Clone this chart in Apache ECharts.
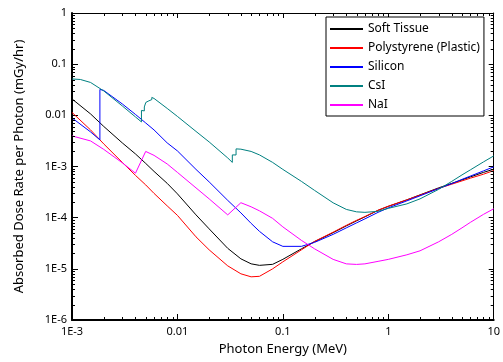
<!DOCTYPE html>
<html>
<head>
<meta charset="utf-8">
<script src="https://cdn.jsdelivr.net/npm/echarts@6/dist/echarts.min.js"></script>
<style>html,body{margin:0;padding:0;background:#fff;}#c{width:503px;height:362px;}</style>
</head>
<body>
<div id="c"></div>
<script>
// Photon energy grids (MeV)
var energyStd = [0.001,0.0015,0.002,0.003,0.004,0.005,0.006,0.008,0.01,0.015,0.02,0.03,0.04,0.05,0.06,0.08,0.1,0.15,0.2,0.3,0.4,0.5,0.6,0.8,1,1.5,2,3,4,5,6,8,10];
var energySi = [0.001,0.0015,0.001839,0.001839,0.002,0.003,0.004,0.005,0.006,0.008,0.01,0.015,0.02,0.03,0.04,0.05,0.06,0.08,0.1,0.15,0.2,0.3,0.4,0.5,0.6,0.8,1,1.5,2,3,4,5,6,8,10];
var energyCsI = [0.001,0.0012,0.0015,0.002,0.003,0.004,0.004557,0.004557,0.004852,0.004852,0.005012,0.005012,0.005188,0.005188,0.005359,0.005359,0.005714,0.005714,0.006,0.008,0.01,0.015,0.02,0.03,0.03317,0.03317,0.03598,0.03598,0.04,0.05,0.06,0.08,0.1,0.15,0.2,0.3,0.4,0.5,0.6,0.8,1,1.5,2,3,4,5,6,8,10];

// Absorbed dose rate per photon (mGy/hr)
var softTissue = [2.09e-2,1.065e-2,6.07e-3,2.89e-3,1.76e-3,1.15e-3,8.02e-4,4.68e-4,2.92e-4,1.134e-4,6.04e-5,2.515e-5,1.568e-5,1.252e-5,1.17e-5,1.224e-5,1.533e-5,2.459e-5,3.398e-5,5.093e-5,6.915e-5,8.66e-5,1.036e-4,1.389e-4,1.662e-4,2.227e-4,2.788e-4,3.82e-4,4.68e-4,5.47e-4,6.26e-4,7.67e-4,8.86e-4];
var polystyrene = [1.139e-2,5.185e-3,2.763e-3,1.202e-3,6.70e-4,4.37e-4,2.98e-4,1.70e-4,1.109e-4,4.22e-5,2.35e-5,1.144e-5,7.99e-6,6.98e-6,7.14e-6,1.0e-5,1.37e-5,2.35e-5,3.44e-5,5.21e-5,7.07e-5,8.86e-5,1.051e-4,1.401e-4,1.677e-4,2.227e-4,2.763e-4,3.735e-4,4.51e-4,5.23e-4,5.91e-4,7.07e-4,8.32e-4];
var silicon = [8.90e-3,4.74e-3,3.31e-3,3.205e-2,3.064e-2,1.67e-2,1.041e-2,7.10e-3,5.185e-3,2.89e-3,2.017e-3,8.78e-4,5.0e-4,2.18e-4,1.24e-4,7.74e-5,5.40e-5,3.37e-5,2.75e-5,2.75e-5,3.29e-5,4.72e-5,6.32e-5,7.91e-5,9.47e-5,1.27e-4,1.554e-4,2.13e-4,2.67e-4,3.70e-4,4.63e-4,5.60e-4,6.49e-4,8.21e-4,9.82e-4];
var csi = [5.14e-2,5.02e-2,4.39e-2,3.00e-2,1.526e-2,9.31e-3,7.43e-3,1.247e-2,1.22e-2,1.459e-2,1.43e-2,1.786e-2,1.75e-2,1.954e-2,1.92e-2,2.09e-2,2.03e-2,2.237e-2,2.138e-2,1.364e-2,9.52e-3,4.85e-3,3.02e-3,1.47e-3,1.202e-3,1.685e-3,1.68e-3,2.21e-3,2.18e-3,1.97e-3,1.685e-3,1.202e-3,8.78e-4,5.12e-4,3.41e-4,1.95e-4,1.45e-4,1.30e-4,1.27e-4,1.33e-4,1.52e-4,1.86e-4,2.33e-4,3.57e-4,5.12e-4,6.85e-4,8.58e-4,1.23e-3,1.61e-3];
var nai = [3.96e-3,3.16e-3,2.16e-3,1.18e-3,7.40e-4,1.97e-3,1.65e-3,1.12e-3,7.67e-4,3.82e-4,2.33e-4,1.134e-4,1.96e-4,1.63e-4,1.36e-4,9.69e-5,6.61e-5,3.60e-5,2.46e-5,1.53e-5,1.25e-5,1.22e-5,1.25e-5,1.40e-5,1.53e-5,1.88e-5,2.25e-5,3.37e-5,4.72e-5,6.32e-5,8.09e-5,1.16e-4,1.49e-4];

var seriesNames = ['Soft Tissue','Polystyrene (Plastic)','Silicon','CsI','NaI'];
var seriesColors = ['#000000','#ff0000','#0000ff','#008080','#ff00ff'];

var xTickLabels = ['1E-3','0.01','0.1','1','10'];
var yTickLabels = ['1E-6','1E-5','1E-4','1E-3','0.01','0.1','1'];
var X_MIN = 1e-3, X_MAX = 10, Y_MIN = 1e-6, Y_MAX = 1;

function zip(xs, ys){ var out=[]; for (var i=0;i<xs.length;i++) out.push([xs[i], ys[i]]); return out; }

// minor tick positions (2..9 within each decade)
var xMinor = [], yMinor = [];
for (var d=-3; d<1; d++) for (var m=2; m<10; m++) xMinor.push([m*Math.pow(10,d), 1e-3]);
for (var d2=-6; d2<0; d2++) for (var m2=2; m2<10; m2++) yMinor.push([1e-2, m2*Math.pow(10,d2)]);

var FONT = 'Noto Sans';
var chart = echarts.init(document.getElementById('c'), null, {renderer:'canvas'});

var lineSeries = [
  {name: seriesNames[0], data: zip(energyStd, softTissue)},
  {name: seriesNames[1], data: zip(energyStd, polystyrene)},
  {name: seriesNames[2], data: zip(energySi, silicon)},
  {name: seriesNames[3], data: zip(energyCsI, csi)},
  {name: seriesNames[4], data: zip(energyStd, nai)}
].map(function(s, i){
  return {
    name: s.name, type: 'line', data: s.data, symbol: 'none', showSymbol: false,
    lineStyle: {width: 1, color: seriesColors[i]}, itemStyle: {color: seriesColors[i]},
    xAxisIndex: 0, yAxisIndex: 0, z: 3, clip: true
  };
});

var minorX = {
  type: 'custom', xAxisIndex: 0, yAxisIndex: 0, silent: true, z: 5, data: xMinor,
  renderItem: function(params, api){
    var cs = params.coordSys; var p = api.coord([api.value(0), 1e-3]);
    var x = Math.round(p[0]) + 0.5, yb = cs.y + cs.height, yt = cs.y;
    return {type:'group', children:[
      {type:'line', shape:{x1:x, y1:yb, x2:x, y2:yb-3}, style:{stroke:'#000', lineWidth:1}},
      {type:'line', shape:{x1:x, y1:yt, x2:x, y2:yt+3}, style:{stroke:'#000', lineWidth:1}}
    ]};
  }
};
var minorY = {
  type: 'custom', xAxisIndex: 0, yAxisIndex: 0, silent: true, z: 5, data: yMinor,
  renderItem: function(params, api){
    var cs = params.coordSys; var p = api.coord([1e-2, api.value(1)]);
    var y = Math.round(p[1]) + 0.5, xl = cs.x, xr = cs.x + cs.width;
    return {type:'group', children:[
      {type:'line', shape:{x1:xl, y1:y, x2:xl+3, y2:y}, style:{stroke:'#000', lineWidth:1}},
      {type:'line', shape:{x1:xr, y1:y, x2:xr-3, y2:y}, style:{stroke:'#000', lineWidth:1}}
    ]};
  }
};

chart.setOption({
  animation: false,
  backgroundColor: '#fff',
  textStyle: {fontFamily: FONT},
  grid: {left: 72, right: 6, top: 13, bottom: 42, containLabel: false},
  legend: {
    data: seriesNames, orient: 'vertical', left: 326, top: 17,
    itemWidth: 33, itemHeight: 14, itemGap: 7, padding: [6, 4, 5, 3],
    borderColor: '#000', borderWidth: 1, backgroundColor: '#fff',
    textStyle: {fontFamily: FONT, fontSize: 12, color: '#000', padding: [0,0,0,0]},
    itemStyle: {opacity: 0}
  },
  xAxis: [{
    type: 'log', logBase: 10, min: X_MIN, max: X_MAX, position: 'bottom',
    name: 'Photon Energy (MeV)', nameLocation: 'middle', nameGap: 23,
    nameTextStyle: {fontFamily: FONT, fontSize: 13, color: '#000'},
    axisLine: {show: true, onZero: false, lineStyle: {color: '#000', width: 2}},
    axisTick: {show: true, inside: true, length: 6, lineStyle: {color: '#000'}},
    axisLabel: {fontFamily: FONT, fontSize: 11, color: '#000', margin: 6,
      formatter: function(v){ return xTickLabels[Math.round(Math.log10(v)) + 3]; }},
    splitLine: {show: false}, minorTick: {show: false}
  },{
    type: 'log', logBase: 10, min: X_MIN, max: X_MAX, position: 'top',
    axisLine: {show: true, onZero: false, lineStyle: {color: '#000', width: 1}},
    axisTick: {show: true, inside: true, length: 5, lineStyle: {color: '#000'}},
    axisLabel: {show: false}, splitLine: {show: false}
  }],
  yAxis: [{
    type: 'log', logBase: 10, min: Y_MIN, max: Y_MAX, position: 'left',
    name: 'Absorbed Dose Rate per Photon (mGy/hr)', nameLocation: 'middle', nameGap: 46,
    nameTextStyle: {fontFamily: FONT, fontSize: 13, color: '#000'},
    axisLine: {show: true, onZero: false, lineStyle: {color: '#000', width: 2}},
    axisTick: {show: true, inside: true, length: 6, lineStyle: {color: '#000'}},
    axisLabel: {fontFamily: FONT, fontSize: 11, color: '#000', margin: 5,
      formatter: function(v){ return yTickLabels[Math.round(Math.log10(v)) + 6]; }},
    splitLine: {show: false}
  },{
    type: 'log', logBase: 10, min: Y_MIN, max: Y_MAX, position: 'right',
    axisLine: {show: true, onZero: false, lineStyle: {color: '#000', width: 1}},
    axisTick: {show: true, inside: true, length: 5, lineStyle: {color: '#000'}},
    axisLabel: {show: false}, splitLine: {show: false}
  }],
  series: lineSeries.concat([minorX, minorY])
});
</script>
</body>
</html>
